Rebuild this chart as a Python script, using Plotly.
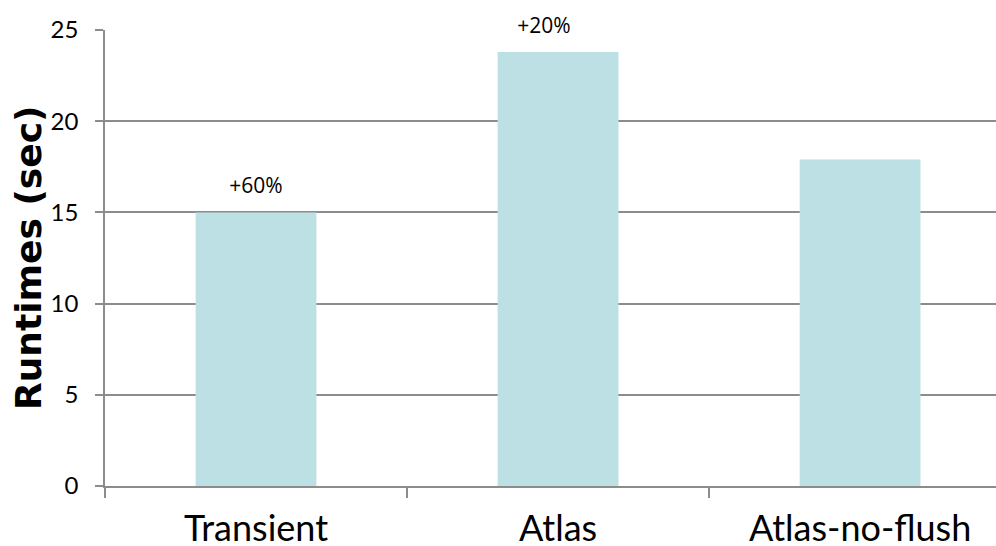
import plotly.graph_objects as go

# Runtime per configuration (seconds)
configs = ["Transient", "Atlas", "Atlas-no-flush"]
runtimes = [15.0, 23.8, 17.9]
overhead_labels = ["+60%", "+20%", ""]

bar_color = "#BCE0E3"
grid_color = "#8C8C8C"

fig = go.Figure()
fig.add_trace(go.Bar(
    x=configs,
    y=runtimes,
    width=0.4,
    marker=dict(color=bar_color, line=dict(width=0)),
    hoverinfo="skip",
))

# Overhead annotations above the bars
label_shift = [0, -14, 0]
for cfg, val, txt, dx in zip(configs, runtimes, overhead_labels, label_shift):
    if not txt:
        continue
    pad = "\u00a0" * 5
    fig.add_annotation(
        x=cfg, y=val, text=pad + txt + pad, showarrow=False,
        yanchor="bottom", yshift=10, xshift=dx,
        font=dict(family="Open Sans, Noto Sans, sans-serif", size=21, color="#000"),
        bgcolor="white", borderpad=2,
    )

# Rotated y-axis title
fig.add_annotation(
    x=0, xref="paper", xanchor="center", xshift=-77,
    y=0.5, yref="paper", yanchor="middle",
    text="<b>Runtimes (sec)</b>", textangle=-90, showarrow=False,
    font=dict(family="DejaVu Sans, sans-serif", size=36, color="#000"),
)

fig.update_layout(
    width=996, height=546,
    margin=dict(l=105, r=0, t=30, b=60, autoexpand=False),
    plot_bgcolor="white", paper_bgcolor="white",
    showlegend=False,
    bargap=0.6,
)

fig.update_xaxes(
    type="category",
    range=[-0.5, 2.45],
    tickson="boundaries",
    ticks="outside", ticklen=10, tickcolor=grid_color, tickwidth=1.5,
    showline=True, linecolor=grid_color, linewidth=1.5,
    showgrid=False,
    automargin=False,
    tickfont=dict(family="Lato, sans-serif", size=36, color="#000"),
    ticklabelstandoff=10,
)
fig.update_yaxes(
    range=[0, 25],
    tickvals=[0, 5, 10, 15, 20, 25],
    ticks="outside", ticklen=8, tickcolor=grid_color, tickwidth=1.5,
    showline=True, linecolor=grid_color, linewidth=1.5,
    showgrid=True, gridcolor=grid_color, gridwidth=1.5,
    zeroline=False,
    automargin=False,
    tickfont=dict(family="Lato, sans-serif", size=24, color="#000"),
    ticklabelstandoff=12,
)

fig.write_html("out.html")
